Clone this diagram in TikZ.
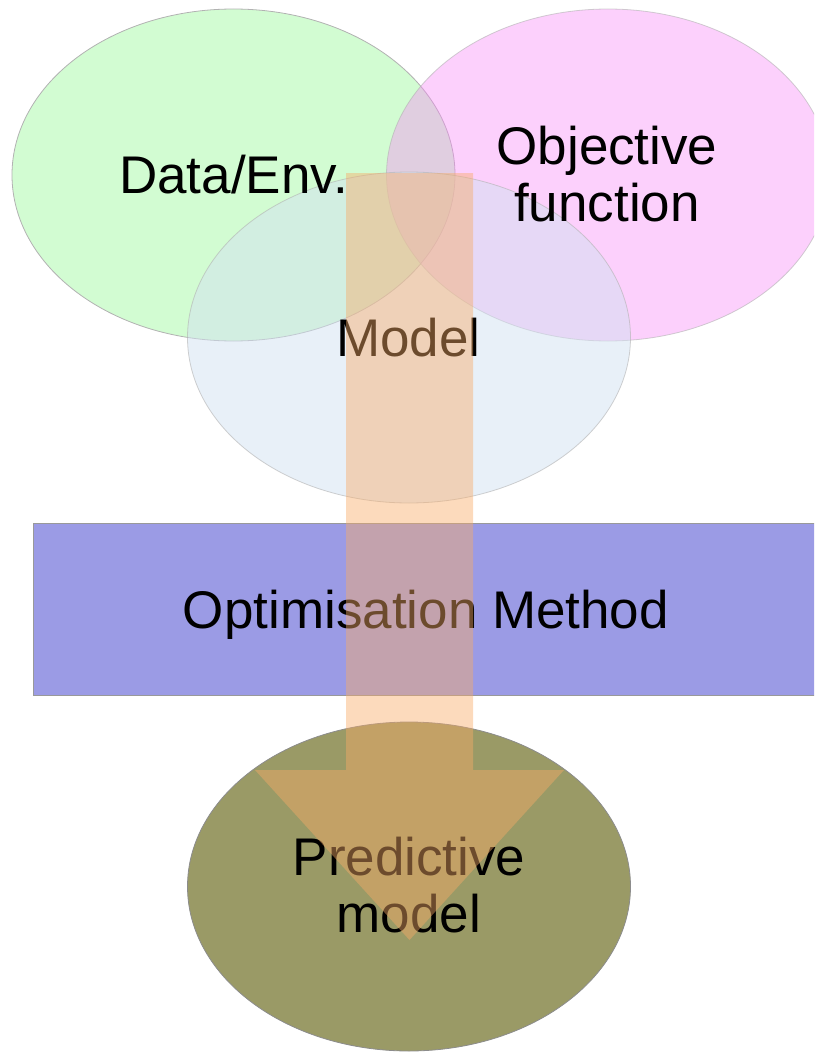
\documentclass[tikz,border=0pt]{standalone}
\usepackage{fontspec}
\setmainfont{Liberation Sans}
\usetikzlibrary{shapes.geometric}
\definecolor{envgreen}{RGB}{210,252,210}
\definecolor{objpink}{RGB}{247,137,247}
\definecolor{modelblue}{RGB}{210,225,241}
\definecolor{optblue}{RGB}{155,155,229}
\definecolor{predolive}{RGB}{154,154,102}
\definecolor{flowpeach}{RGB}{248,171,103}
\begin{document}
\begin{tikzpicture}[x=1pt,y=-1pt,
  blob/.style={ellipse, inner sep=0pt, minimum width=443pt, minimum height=332pt,
    draw=black!30, line width=0.8pt},
  lbl/.style={inner sep=0pt, font=\fontsize{53}{57}\selectfont, text=black},
  flow/.style={fill=flowpeach, fill opacity=0.44},
]
\useasboundingbox (0,0) rectangle (814,1054);
\clip (0,0) rectangle (814,1054);

% the three overlapping ingredients
\node[blob, fill=envgreen] (data) at (233.5,175) {};
\node[blob, fill=objpink, fill opacity=0.4, draw opacity=0.6] (objective) at (608,175) {};
\node[blob, fill=modelblue, fill opacity=0.51, draw opacity=0.6, minimum height=331pt] (model) at (409,337.5) {};

% optimisation band and resulting model
\node[draw=black!40, line width=0.8pt, fill=optblue, inner sep=0pt,
  minimum width=786pt, minimum height=171.5pt] (optim) at (426,609.5) {};
\node[blob, fill=predolive, draw=black!45, minimum height=329pt] (pred) at (409,886.5) {};

% labels
\node[lbl, anchor=base] (tdata) at (233.5,193) {Data/Env.};
\node[lbl, align=center] (tobj) at (607,174.4) {Objective\\function};
\node[lbl, anchor=base] (tmodel) at (408.5,356) {Model};
\node[lbl, anchor=base] (topt) at (426,628) {Optimisation Method};
\node[lbl, align=center] (tpred) at (409,885.4) {Predictive\\model};

% translucent flow arrow from the model down to the predictive model
\fill[flow] (346,173) -- (473,173) -- (473,770) -- (564,770) -- (409.5,940)
  -- (255,770) -- (346,770) -- cycle;
\end{tikzpicture}
\end{document}
